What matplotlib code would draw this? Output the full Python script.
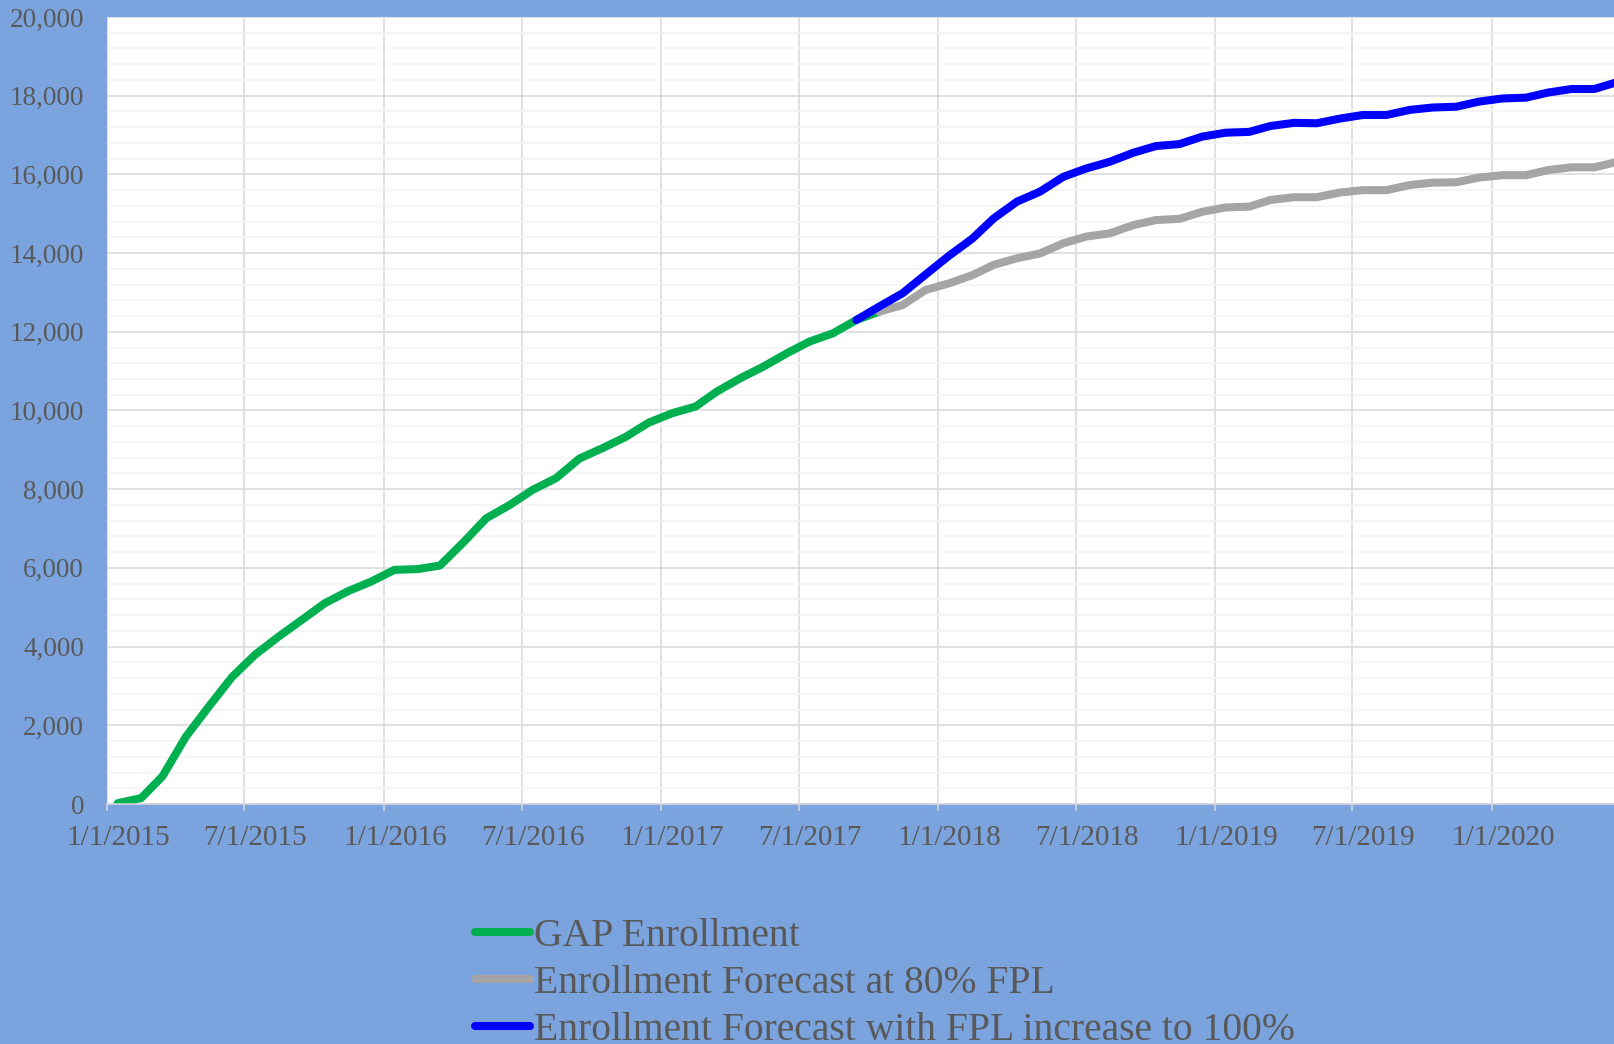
import matplotlib
matplotlib.use("Agg")
import matplotlib.pyplot as plt
import matplotlib.dates as mdates
import matplotlib.ticker as mticker
from matplotlib.transforms import ScaledTranslation
import pandas as pd

plt.rcParams['font.family'] = ['Liberation Serif', 'DejaVu Serif']

# monthly points, mid-month from Jan 2015 to Jun 2020
months = pd.date_range('2015-01-01', periods=66, freq='MS') + pd.Timedelta(days=14)

# actual GAP enrollment (Jan 2015 - Oct 2017)
gap_enrollment = [20, 150, 700, 1710, 2470, 3230, 3790, 4250, 4680, 5100,
                  5410, 5650, 5950, 5970, 6060, 6650, 7260, 7600, 7980, 8280,
                  8780, 9040, 9330, 9690, 9930, 10100, 10480, 10820, 11110, 11450,
                  11750, 11960, 12300, 12510]

# forecast at 80% FPL (Oct 2017 onward)
forecast_80 = [12510, 12680, 13060, 13230, 13440, 13700, 13870, 13990, 14250, 14420,
               14500, 14710, 14840, 14870, 15050, 15160, 15180, 15350, 15420, 15420,
               15540, 15600, 15600, 15730, 15790, 15800, 15920, 15980, 15980, 16110,
               16180, 16180, 16320]

# forecast with FPL raised to 100% (Sep 2017 onward)
forecast_100 = [12300, 12640, 12980, 13450, 13930, 14370, 14880, 15310, 15560, 15940,
                16150, 16320, 16550, 16720, 16770, 16960, 17060, 17080, 17230, 17310,
                17300, 17420, 17510, 17510, 17640, 17700, 17720, 17850, 17930, 17950,
                18080, 18170, 18170, 18350]

labels = ['GAP Enrollment', 'Enrollment Forecast at 80% FPL',
          'Enrollment Forecast with FPL increase to 100%']
colors = ['#00B050', '#A5A5A5', '#0000FF']

W, H = 1614, 1044
bg = '#7BA3DE'
txt = '#595959'

fig = plt.figure(figsize=(W / 100, H / 100), dpi=100, facecolor=bg)
ax = fig.add_axes([107 / W, (H - 804) / H, (W - 107) / W, (804 - 17) / H])
ax.set_facecolor('white')

lw = 5.8
line_kw = dict(linewidth=lw, solid_capstyle='round', solid_joinstyle='round')
l1, = ax.plot(months[:34], gap_enrollment, color=colors[0], label=labels[0], **line_kw)
l2, = ax.plot(months[33:], forecast_80, color=colors[1], label=labels[1], **line_kw)
l3, = ax.plot(months[32:], forecast_100, color=colors[2], label=labels[2], **line_kw)

ax.set_ylim(0, 20000)
ax.set_xlim(pd.Timestamp('2015-01-01'), pd.Timestamp('2020-06-10'))

ax.yaxis.set_major_locator(mticker.MultipleLocator(2000))
ax.yaxis.set_minor_locator(mticker.MultipleLocator(400))
ax.yaxis.set_major_formatter(mticker.StrMethodFormatter('{x:,.0f}'))

ax.xaxis.set_major_locator(mdates.MonthLocator(bymonth=[1, 7], bymonthday=1))


def date_label(x, pos):
    d = mdates.num2date(x)
    return f"{d.month}/{d.day}/{d.year}"


ax.xaxis.set_major_formatter(mticker.FuncFormatter(date_label))

ax.grid(which='major', axis='both', color='#D9D9D9', linewidth=1.1)
ax.grid(which='minor', axis='y', color='#F2F2F2', linewidth=1.1)
ax.set_axisbelow(True)

for s in ['top', 'right', 'left']:
    ax.spines[s].set_visible(False)
ax.spines['bottom'].set_color('#D9D9D9')
ax.spines['bottom'].set_linewidth(1.1)

ax.tick_params(axis='y', which='both', length=0, pad=16.5, labelsize=19.5, labelcolor=txt)
ax.tick_params(axis='x', which='major', length=5, width=1.1, color='#D9D9D9',
               direction='out', pad=10, labelsize=21, labelcolor=txt)

# date labels sit a little right of their tick
shift = ScaledTranslation(11 / 100, 0, fig.dpi_scale_trans)
for lbl in ax.get_xticklabels():
    lbl.set_transform(lbl.get_transform() + shift)

fig.legend(handles=[l1, l2, l3], labels=labels, loc='upper left',
           bbox_to_anchor=(475 / W, 1 - 918 / H), frameon=False,
           borderpad=0, borderaxespad=0, handlelength=1.4, handletextpad=0.1,
           labelspacing=0.25, fontsize=28.5, labelcolor=txt)

fig.savefig('out.png', dpi=100, facecolor=bg)
